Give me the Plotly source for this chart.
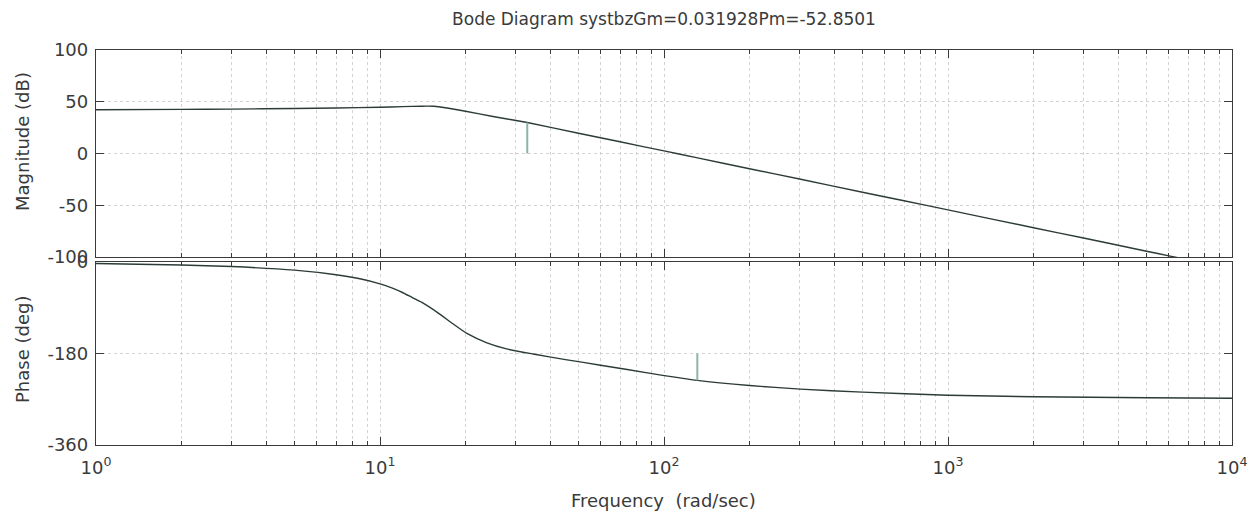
import plotly.graph_objects as go

# ---- data ----
mag_freq = [1, 2, 3, 5, 7, 10, 12, 14, 15.5, 17, 20, 25, 33, 50, 70, 100, 130,
            200, 300, 500, 700, 1000, 2000, 3000, 5000, 6000, 10000]
mag_db = [42.3, 42.6, 42.9, 43.5, 44.0, 44.7, 45.3, 45.7, 45.6, 44.2, 40.8, 35.8,
          29.9, 19.6, 11.3, 2.5, -4.0, -14.7, -24.7, -37.4, -45.7, -54.5, -71.7,
          -81.7, -94.4, -98.9, -111.5]

ph_freq = [1, 2, 3, 5, 7, 8.5, 10, 11, 12, 13, 14, 16, 18, 20.3, 23.8, 27.9, 34.6,
           45, 59.8, 89.6, 131, 200, 302, 500, 1000, 2000, 5000, 10000]
ph_deg = [-3, -6, -9, -16, -25, -33, -43, -51, -60, -70, -79, -100, -121, -141,
          -159, -171, -181, -192, -203, -219, -232.85, -243, -250, -256, -262,
          -265, -267, -268]

title_text = "Bode Diagram systbzGm=0.031928Pm=-52.8501"
gm_freq = 33          # phase crossover (rad/s)
gm_db = 29.92         # -20*log10(0.031928)
pm_freq = 131         # gain crossover (rad/s)
pm_deg = -232.85      # -180 + (-52.8501)

x_tickvals = [1, 10, 100, 1000, 10000]
x_ticktext = ["10<sup>0</sup>", "10<sup>1</sup>", "10<sup>2</sup>",
              "10<sup>3</sup>", "10<sup>4</sup>"]
x_minor = [m * 10 ** e for e in range(4) for m in range(2, 10)]
mag_ticks = [100, 50, 0, -50, -100]
mag_ticktext = ["100", "50", "0", "-50", "-100"]
ph_ticks = [0, -180, -360]
ph_ticktext = ["0", "-180", "-360"]

FONT = "DejaVu Sans"
TXT = "#3a3a3a"
LINE = "#2c3b39"
AX = "#3a3a3a"
GRID = "#d2d2d2"
MARK = "#8fb3ab"

# page body has an 8px margin: figure is sized/placed to compensate
W, H = 1251, 511
OFF = 8

fig = go.Figure()
fig.add_trace(go.Scatter(x=mag_freq, y=mag_db, mode="lines", line=dict(color=LINE, width=1.4, shape="spline", smoothing=0.5),
                         xaxis="x", yaxis="y", showlegend=False, hoverinfo="skip"))
fig.add_trace(go.Scatter(x=[gm_freq, gm_freq], y=[0, gm_db], mode="lines", line=dict(color=MARK, width=2),
                         xaxis="x", yaxis="y", showlegend=False, hoverinfo="skip"))
fig.add_trace(go.Scatter(x=ph_freq, y=ph_deg, mode="lines", line=dict(color=LINE, width=1.4, shape="spline", smoothing=0.5),
                         xaxis="x2", yaxis="y2", showlegend=False, hoverinfo="skip"))
fig.add_trace(go.Scatter(x=[pm_freq, pm_freq], y=[-180, pm_deg], mode="lines", line=dict(color=MARK, width=2),
                         xaxis="x2", yaxis="y2", showlegend=False, hoverinfo="skip"))

common_x = dict(type="log", range=[0, 4], showline=True, linecolor=AX, linewidth=1.3, mirror="allticks",
                ticks="inside", ticklen=8, tickcolor=AX, tickmode="array", tickvals=x_tickvals,
                showgrid=True, gridcolor=GRID, griddash="dot", gridwidth=1, zeroline=False,
                minor=dict(tickmode="array", tickvals=x_minor, ticks="inside", ticklen=4, tickcolor=AX,
                           showgrid=True, gridcolor=GRID, griddash="dot"))
common_y = dict(showline=True, linecolor=AX, linewidth=1.3, mirror="allticks", ticks="inside", ticklen=8,
                tickcolor=AX, showgrid=True, gridcolor=GRID, griddash="dot", zeroline=False,
                tickmode="array", ticklabelstandoff=3,
                tickfont=dict(family=FONT, size=18, color=TXT))

plot_w = 1232 - 96
plot_h = 445 - 50

fig.update_layout(
    width=W, height=H,
    margin=dict(l=96 - OFF, r=W + OFF - 1232, t=50 - OFF, b=H + OFF - 445),
    paper_bgcolor="white", plot_bgcolor="white",
    title=dict(text=title_text, x=((96 + 1232) / 2 - OFF) / W, xanchor="center",
               y=1 - (19 - OFF) / H, yanchor="middle",
               yref="container", font=dict(family=FONT, size=17, color=TXT)),
    xaxis=dict(common_x, domain=[0, 1], anchor="y", showticklabels=False),
    yaxis=dict(common_y, domain=[(445 - 257) / plot_h, 1], range=[-100, 100],
               tickvals=mag_ticks, ticktext=mag_ticktext, anchor="x"),
    xaxis2=dict(common_x, domain=[0, 1], anchor="y2", ticktext=x_ticktext, ticklabelstandoff=6,
                tickfont=dict(family=FONT, size=18, color=TXT)),
    yaxis2=dict(common_y, domain=[0, (445 - 262) / plot_h], range=[-360, 0],
                tickvals=ph_ticks, ticktext=ph_ticktext, anchor="x2"),
    annotations=[
        dict(text="Magnitude (dB)", textangle=-90, x=(22 - 96) / plot_w, y=(445 - 142) / plot_h,
             xref="paper", yref="paper", showarrow=False, xanchor="center", yanchor="middle",
             font=dict(family=FONT, size=18, color=TXT)),
        dict(text="Phase (deg)", textangle=-90, x=(22 - 96) / plot_w, y=(445 - 350) / plot_h,
             xref="paper", yref="paper", showarrow=False, xanchor="center", yanchor="middle",
             font=dict(family=FONT, size=18, color=TXT)),
        dict(text="Frequency  (rad/sec)", x=((564 + 762) / 2 - 96) / plot_w, y=(445 - 500) / plot_h,
             xref="paper", yref="paper", showarrow=False, xanchor="center", yanchor="middle",
             font=dict(family=FONT, size=18, color=TXT)),
    ],
)

fig.write_html("out.html")
